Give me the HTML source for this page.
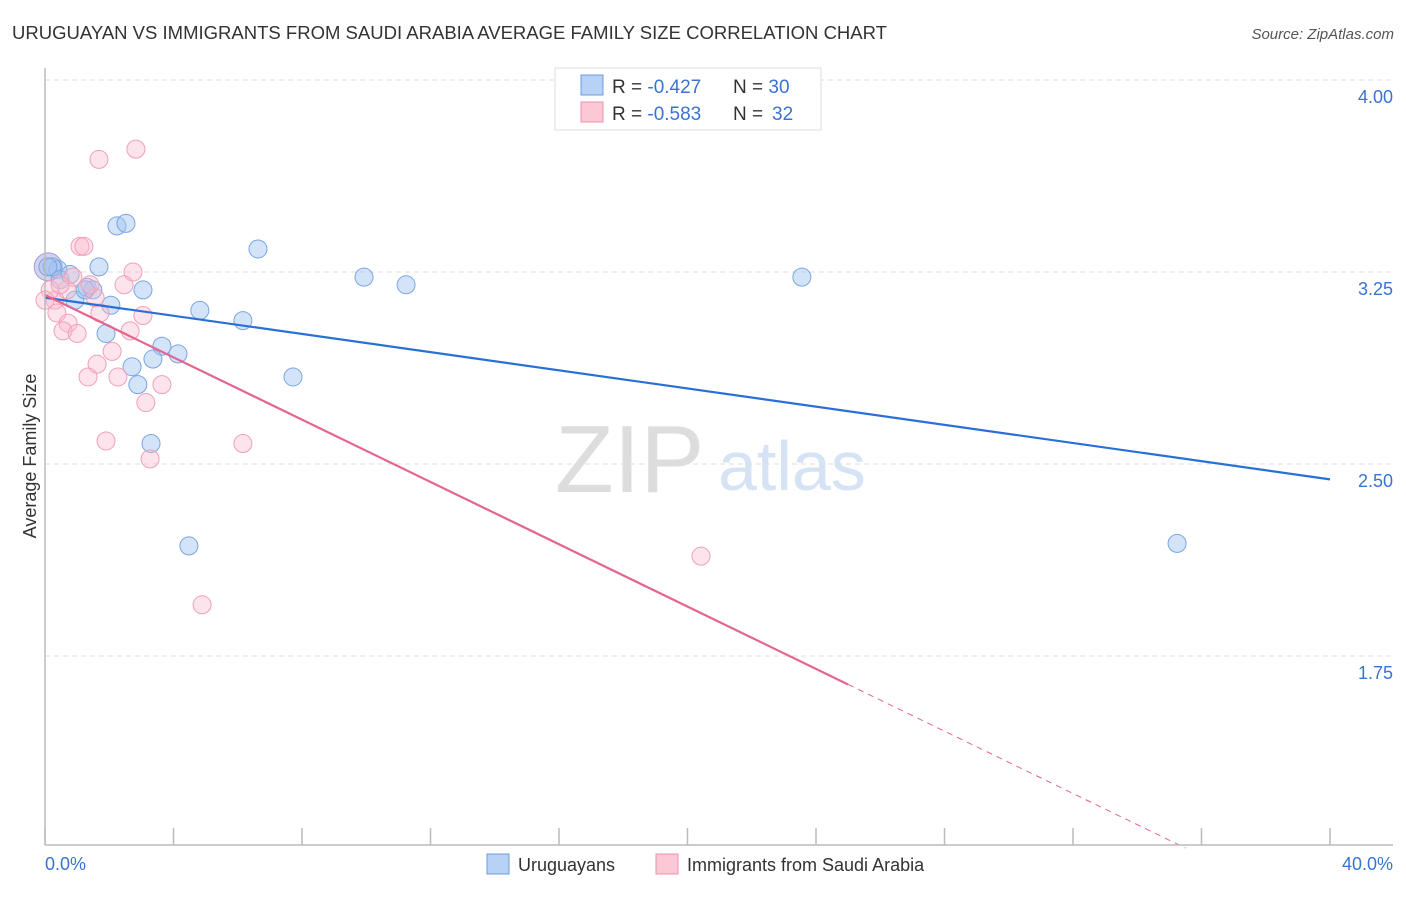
<!DOCTYPE html>
<html><head><meta charset="utf-8"><style>
body{margin:0;background:#fff;font-family:"Liberation Sans",sans-serif}
svg text{font-family:"Liberation Sans",sans-serif}
</style></head><body>
<svg id="c" width="1406" height="892">
<text x="12" y="39" font-size="18" fill="#333" textLength="875" lengthAdjust="spacingAndGlyphs">URUGUAYAN VS IMMIGRANTS FROM SAUDI ARABIA AVERAGE FAMILY SIZE CORRELATION CHART</text>
<text x="1394" y="39" font-size="15" fill="#555" font-style="italic" text-anchor="end">Source: ZipAtlas.com</text>
<text x="36" y="456" font-size="18" fill="#333" text-anchor="middle" transform="rotate(-90 36 456)">Average Family Size</text>
<g id="grid"></g>
<text x="555" y="492" font-size="96" fill="#ddd" font-family="Liberation Serif">ZIP</text>
<text x="718" y="490" font-size="70" fill="#d6e3f5">atlas</text>
<g id="pts"></g>
<g id="lines"></g>
<line x1="45" y1="845" x2="1393" y2="845" stroke="#bbb" stroke-width="1.5"/>
<line x1="45" y1="68" x2="45" y2="845" stroke="#bbb" stroke-width="1.5"/>
<text x="45" y="870" font-size="18" fill="#3a74d0">0.0%</text>
<text x="1393" y="870" font-size="18" fill="#3a74d0" text-anchor="end">40.0%</text>
<g>
<rect x="555" y="68" width="266" height="62" fill="#fff" stroke="#ddd"/>
<rect x="581" y="75" width="22" height="20" fill="#b8d2f5" stroke="#6c9be0"/>
<rect x="581" y="102" width="22" height="20" fill="#fcc8d6" stroke="#ec8fab"/>
<text x="612" y="93" font-size="19" fill="#333">R = <tspan fill="#3a74d0">-0.427</tspan></text>
<text x="733" y="93" font-size="19" fill="#333">N = <tspan fill="#3a74d0">30</tspan></text>
<text x="612" y="120" font-size="19" fill="#333">R = <tspan fill="#3a74d0">-0.583</tspan></text>
<text x="733" y="120" font-size="19" fill="#333">N =</text>
<text x="772" y="120" font-size="19" fill="#3a74d0">32</text>
</g>
<g>
<rect x="487" y="854" width="22" height="20" fill="#b8d2f5" stroke="#6c9be0"/>
<text x="518" y="871" font-size="18" fill="#333">Uruguayans</text>
<rect x="656" y="854" width="22" height="20" fill="#fcc8d6" stroke="#ec8fab"/>
<text x="687" y="871" font-size="18" fill="#333">Immigrants from Saudi Arabia</text>
</g>
</svg>
<script>
const yTicks=[4.00,3.25,2.50,1.75];
const xTickPcts=[0,4,8,12,16,20,24,28,32,36,40];
const blueX=[2.24,2.52,6.63,1.68,0.40,0.22,3.05,1.31,1.49,0.93,2.05,4.82,6.16,1.90,3.64,4.14,3.36,2.71,2.89,7.72,3.30,4.48,9.93,11.24,23.56,35.24,0.09,0.47,1.25,0.78];
const blueY=[3.43,3.44,3.34,3.27,3.26,3.27,3.18,3.19,3.18,3.14,3.12,3.10,3.06,3.01,2.96,2.93,2.91,2.88,2.81,2.84,2.58,2.18,3.23,3.20,3.23,2.19,3.27,3.22,3.18,3.24];
const pinkX=[1.68,2.83,1.09,1.21,2.74,0.87,2.46,0.68,1.56,0.31,1.71,0.37,3.05,2.65,0.72,0.56,1.00,2.09,1.62,1.34,2.27,3.64,3.14,1.90,6.16,3.27,20.42,4.89,0.16,0,0.47,1.40];
const pinkY=[3.69,3.73,3.35,3.35,3.25,3.23,3.20,3.18,3.15,3.14,3.09,3.09,3.08,3.02,3.05,3.02,3.01,2.94,2.89,2.84,2.84,2.81,2.74,2.59,2.58,2.52,2.14,1.95,3.18,3.14,3.20,3.20];
const blueTrend=[3.15,2.44];
const pinkTrend=[3.16,1.00];
const pinkSolidEnd=25;
const X=p=>45+p*32.125, Y=v=>80+(4-v)*256;
const NS="http://www.w3.org/2000/svg";
function mk(t,a,parent){const e=document.createElementNS(NS,t);for(const k in a)e.setAttribute(k,a[k]);parent.appendChild(e);return e;}
const grid=document.getElementById('grid');
yTicks.forEach(v=>{
 const l=mk('line',{x1:45,x2:1393,y1:Y(v),y2:Y(v),stroke:'#ddd','stroke-dasharray':'5,4'},grid);
 
 
 const t=mk('text',{x:1393,y:Y(v)+23,'font-size':18,fill:'#3a74d0','text-anchor':'end'},grid);
 t.textContent=v.toFixed(2);
 
 
});
xTickPcts.forEach(p=>{
 const l=mk('line',{x1:X(p),x2:X(p),y1:828,y2:845,stroke:'#bbb','stroke-width':1.5},grid);
 
 
});
const pts=document.getElementById('pts');
const big=mk('circle',{cx:X(0.1),cy:Y(3.27),r:14,fill:'rgba(150,140,210,0.4)',stroke:'rgba(110,110,200,0.6)'},pts);


blueX.forEach((x,i)=>{
 const c=mk('circle',{cx:X(x),cy:Y(blueY[i]),r:9,fill:'rgba(160,196,240,0.45)',stroke:'#7aa5e4','stroke-width':1},pts);
 
 
});
pinkX.forEach((x,i)=>{
 const c=mk('circle',{cx:X(x),cy:Y(pinkY[i]),r:9,fill:'rgba(250,185,205,0.4)',stroke:'#f0a0b8','stroke-width':1},pts);
 
 
});
const lines=document.getElementById('lines');
const bl=mk('line',{x1:X(0),y1:Y(blueTrend[0]),x2:X(40),y2:Y(blueTrend[1]),stroke:'#2a6fd6','stroke-width':2.2},lines);


const pinkAt=p=>pinkTrend[0]+(pinkTrend[1]-pinkTrend[0])*p/35.5;
const pl=mk('line',{x1:X(0),y1:Y(pinkTrend[0]),x2:X(pinkSolidEnd),y2:Y(pinkAt(pinkSolidEnd)),stroke:'#e46590','stroke-width':2.2},lines);


const pd=mk('line',{x1:X(pinkSolidEnd),y1:Y(pinkAt(pinkSolidEnd)),x2:X(35.5),y2:Y(pinkTrend[1]),stroke:'#e46590','stroke-width':1,'stroke-dasharray':'6,5'},lines);


</script>
</body></html>
